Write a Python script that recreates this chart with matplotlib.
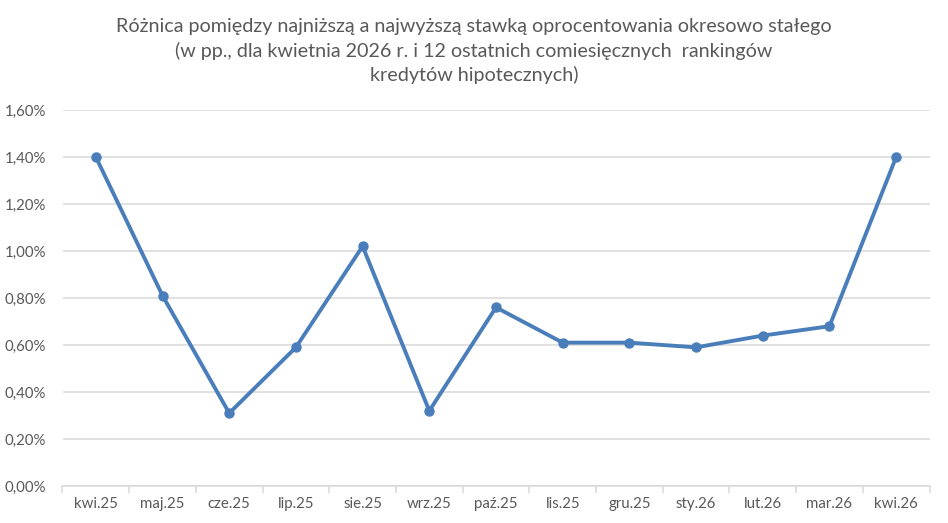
import matplotlib.pyplot as plt
from matplotlib.ticker import FuncFormatter, MultipleLocator

# Data
months = ['kwi.25', 'maj.25', 'cze.25', 'lip.25', 'sie.25', 'wrz.25', 'paź.25',
          'lis.25', 'gru.25', 'sty.26', 'lut.26', 'mar.26', 'kwi.26']
spread = [1.40, 0.81, 0.31, 0.59, 1.02, 0.32, 0.76, 0.61, 0.61, 0.59, 0.64, 0.68, 1.40]

title = ('Różnica pomiędzy najniższą a najwyższą stawką oprocentowania okresowo stałego\n'
         '(w pp., dla kwietnia 2026 r. i 12 ostatnich comiesięcznych  rankingów\n'
         'kredytów hipotecznych)')

plt.rcParams['font.family'] = ['Lato', 'DejaVu Sans']
text_color = '#595959'
line_color = '#4a7ebb'

fig = plt.figure(figsize=(9.48, 5.23), dpi=100)
ax = fig.add_axes([62.5 / 948, 1 - 486 / 523, (929.5 - 62.5) / 948, (486 - 110) / 523])

x = list(range(len(months)))
ax.plot(x, spread, color=line_color, linewidth=2.8, marker='o', markersize=6.5,
        solid_capstyle='round', solid_joinstyle='round', zorder=3)

ax.set_xlim(-0.5, len(months) - 0.5)
ax.set_ylim(0, 1.6)
ax.yaxis.set_major_locator(MultipleLocator(0.2))
ax.yaxis.set_major_formatter(FuncFormatter(lambda v, p: f'{v:.2f}%'.replace('.', ',')))
ax.grid(axis='y', color='#d9d9d9', linewidth=1.1, zorder=0)
ax.set_axisbelow(True)

ax.set_xticks(x)
ax.set_xticklabels(months)
ax.set_xticks([i - 0.5 for i in range(len(months) + 1)], minor=True)
ax.tick_params(axis='x', which='major', length=0, pad=8, labelsize=10.8, labelcolor=text_color)
ax.tick_params(axis='x', which='minor', length=5, color='#d9d9d9', width=1.1)
ax.tick_params(axis='y', length=0, pad=12, labelsize=10.8, labelcolor=text_color)

for side in ['top', 'right', 'left']:
    ax.spines[side].set_visible(False)
ax.spines['bottom'].set_color('#d9d9d9')
ax.spines['bottom'].set_linewidth(1.1)

fig.text(0.5, 1 - 51 / 523, title, ha='center', va='center', fontsize=14.2,
         color=text_color, linespacing=1.42)

fig.savefig('out.png', dpi=100)
